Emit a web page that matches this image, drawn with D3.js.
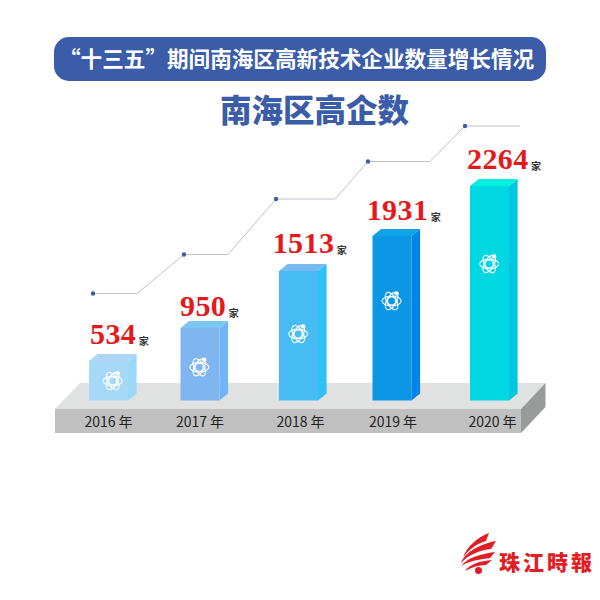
<!DOCTYPE html>
<html><head><meta charset="utf-8">
<style>html,body{margin:0;padding:0;background:#fff}svg{display:block}</style>
<script src="https://cdn.jsdelivr.net/npm/d3@7"></script></head>
<body><svg id="c" width="600" height="600"></svg>
<script>
const years = ["2016 年","2017 年","2018 年","2019 年","2020 年"];
const values = [534,950,1513,1931,2264];
const pillTitle = "“十三五”期间南海区高新技术企业数量增长情况";
const subTitle = "南海区高企数";
const unit = "家";
const logoText = ["珠","江","時","報"];
const frontColors = ["#a5d9f7","#7fb6f2","#47bcf2","#0e96e6","#00d7e2"];
const sideColors  = ["#9bd8f8","#70b6f6","#2fc0f5","#0484e8","#00c6de"];
const topColors   = ["#add5f7","#7cc6f4","#76baf0","#0ea5e8","#00f0e0"];

const svg = d3.select("#c");
const cjk = "'Noto Sans CJK SC',sans-serif";
const baseY = 400.5, dx = 8.6, dy = 7, barW = 39;
// The picture's bars are not proportional, so the value scale is calibrated at each level.
const y = d3.scaleLinear().domain(values).range([361,328,271,236,186]);
const lineY = d3.scaleLinear().domain(values).range([293.5,254.5,199,161.5,126]);
const x = d3.scaleOrdinal().domain(years).range([89,180.5,279,372.5,470]);
const dotX = d3.scaleOrdinal().domain(years).range([93,184,276,368,465]);
const lineBreakX = d3.scaleOrdinal().domain(years).range([137,228,335,430,520]);
const yearX = d3.scaleOrdinal().domain(years).range([108.5,200,300.5,393,492.5]);
const pts = a => a.map(p=>p.join(",")).join(" ");

// title
svg.append("rect").attr("x",54).attr("y",37).attr("width",492).attr("height",44).attr("rx",15).attr("fill","#3a5ca9");
svg.append("text").attr("x",59).attr("y",67).attr("fill","#fff")
  .attr("font-family",cjk).attr("font-weight",700).attr("font-size",21.6).text(pillTitle);
svg.append("text").attr("x",314.5).attr("y",122).attr("text-anchor","middle").attr("fill","#3a5ca9")
  .attr("font-family",cjk).attr("font-weight",900).attr("font-size",31.5).text(subTitle);

// trend line
const line = svg.append("g");
values.forEach((v,i)=>{
  const yr = years[i], p = [[dotX(yr),lineY(v)],[lineBreakX(yr),lineY(v)]];
  if (i<values.length-1) p.push([dotX(years[i+1]),lineY(values[i+1])]);
  line.append("polyline").attr("points",pts(p)).attr("fill","none").attr("stroke","#c0c2c8").attr("stroke-width",1);
});
line.selectAll("circle").data(values).join("circle")
  .attr("cx",(d,i)=>dotX(years[i])).attr("cy",d=>lineY(d)).attr("r",2.2).attr("fill","#3a5ca9");

// platform
svg.append("polygon").attr("points",pts([[55,409],[80,383],[545.5,383],[521,409]])).attr("fill","#e0e1e1");
svg.append("rect").attr("x",55).attr("y",409).attr("width",466).attr("height",24).attr("fill","#bfc0bf");
svg.append("polygon").attr("points",pts([[521,409],[545.5,383],[545.5,407],[521,433]])).attr("fill","#999a9a");

// bars
const atomX = [112.7,199.3,298.2,391.6,489.2], atomY = [381,367.3,334,301,264];
const g = svg.selectAll("g.bar").data(values).join("g").attr("class","bar");
g.each(function(v,i){
  const s = d3.select(this), l = x(years[i]), t = y(v), r = l+barW;
  s.append("rect").attr("x",l).attr("y",t).attr("width",barW).attr("height",baseY-t).attr("fill",frontColors[i]);
  s.append("polygon").attr("points",pts([[r,t],[r+dx,t-dy],[r+dx,baseY-dy],[r,baseY]])).attr("fill",sideColors[i]);
  s.append("polygon").attr("points",pts([[l,t],[l+dx,t-dy],[r+dx,t-dy],[r,t]])).attr("fill",topColors[i]);
  const a = s.append("g").attr("transform",`translate(${atomX[i]},${atomY[i]})`).attr("fill","none").attr("stroke","#fff").attr("stroke-width",1.1);
  a.append("ellipse").attr("rx",9.5).attr("ry",4.8);
  a.append("ellipse").attr("rx",9.5).attr("ry",4.8).attr("transform","rotate(60)");
  a.append("ellipse").attr("rx",9.5).attr("ry",4.8).attr("transform","rotate(-60)");
  a.append("circle").attr("r",4);
  a.append("circle").attr("cx",5).attr("cy",-7.6).attr("r",2.2).attr("fill","#fff").attr("stroke","none");
});

// value labels
const labX = [90,180,272.7,366.7,467], labY = [344,315.5,252.5,220,168.5];
values.forEach((v,i)=>{
  const t = svg.append("text").attr("x",labX[i]).attr("y",labY[i]).attr("fill","#e5191c")
    .attr("font-family","'Liberation Serif',serif").attr("font-weight",700).attr("font-size",30).attr("letter-spacing",0.4).text(v);
  const w = t.node().getComputedTextLength();
  svg.append("text").attr("x",labX[i]+w+2.5).attr("y",labY[i]+1).attr("fill","#333")
    .attr("font-family",cjk).attr("font-size",10).attr("font-weight",700).text(unit);
});

// axis labels
svg.selectAll("text.yr").data(years).join("text").attr("class","yr")
  .attr("x",d=>yearX(d)).attr("y",427).attr("text-anchor","middle").attr("fill","#222")
  .attr("font-family",cjk).attr("font-size",14).text(d=>d);

// logo
const logo = svg.append("g").attr("fill","#e11d25");
logo.append("path").attr("d","M463,558 C466,547 478,537 489,533 L486,541 C476,544 468,550 463,558Z");
logo.append("path").attr("d","M461,563 C465,552 480,544 496,541 L491,549 C480,550 468,555 461,563Z");
logo.append("path").attr("d","M461,566 C467,558 480,554 495,552 L490,558 C481,559 469,561 461,566Z");
logo.append("path").attr("d","M465,571 C470,564 480,561 492,560 L486,565 C479,565 472,567 465,571Z");
logo.append("circle").attr("cx",478.5).attr("cy",570.5).attr("r",3.5);
logo.selectAll("text").data(logoText).join("text").attr("x",(d,i)=>499+i*24).attr("y",570)
  .attr("font-family","'Noto Sans CJK TC',sans-serif").attr("font-weight",900).attr("font-size",21).text(d=>d);
</script></body></html>
